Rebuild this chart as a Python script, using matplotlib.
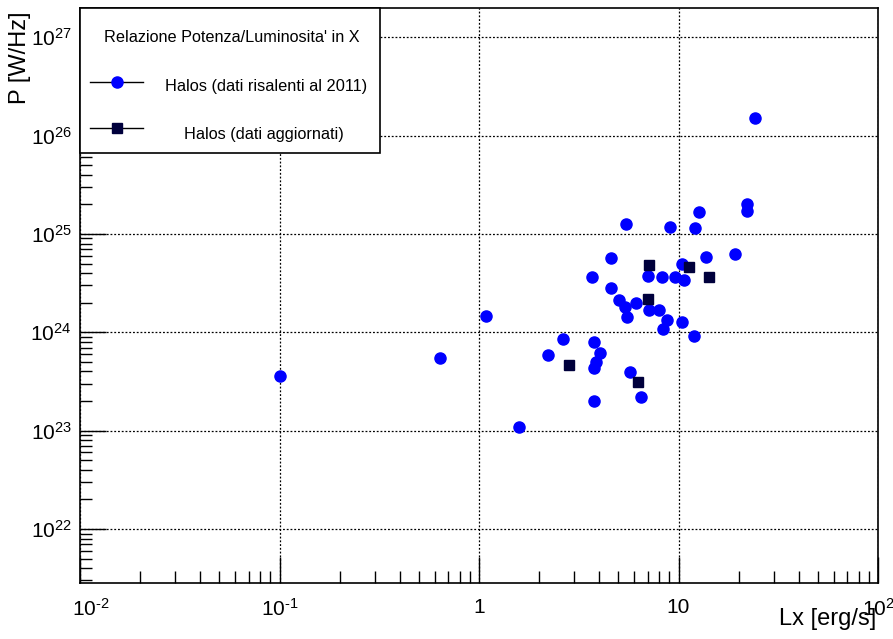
import numpy as np
import matplotlib
matplotlib.use('Agg')
import matplotlib.pyplot as plt
import matplotlib.transforms as mtransforms
from matplotlib.ticker import LogLocator, FixedLocator, FixedFormatter, NullFormatter
from matplotlib.patches import Rectangle
from matplotlib.lines import Line2D

plt.rcParams['font.family'] = ['Liberation Sans', 'DejaVu Sans']
plt.rcParams['mathtext.fontset'] = 'custom'
plt.rcParams['mathtext.rm'] = 'Liberation Sans'
plt.rcParams['mathtext.it'] = 'Liberation Sans'
plt.rcParams['mathtext.default'] = 'regular'

# Halos, data up to 2011
lx_2011 = [5.45, 9.03, 12.1, 12.7, 22.0, 22.0, 4.61, 13.7, 19.3, 10.4,
           3.69, 7.07, 8.27, 9.58, 10.7, 4.57, 5.03, 5.38, 6.12, 5.55,
           7.15, 7.94, 8.80, 8.39, 10.4, 12.0, 1.08, 2.65, 2.21, 3.76,
           4.02, 3.88, 3.79, 5.73, 6.49, 3.79, 1.58, 24.2, 0.10, 0.634]
p_2011 = [1.26e25, 1.17e25, 1.15e25, 1.66e25, 2.01e25, 1.72e25, 5.66e24, 5.79e24, 6.27e24, 4.97e24,
          3.63e24, 3.78e24, 3.63e24, 3.69e24, 3.42e24, 2.84e24, 2.14e24, 1.80e24, 2.00e24, 1.43e24,
          1.67e24, 1.67e24, 1.35e24, 1.09e24, 1.27e24, 9.1e23, 1.46e24, 8.6e23, 5.85e23, 7.98e23,
          6.22e23, 5.0e23, 4.29e23, 3.96e23, 2.18e23, 2.0e23, 1.10e23, 1.51e26, 3.58e23, 5.46e23]

# Halos, updated data
lx_new = [7.15, 11.3, 14.3, 7.02, 2.81, 6.29]
p_new = [4.89e24, 4.67e24, 3.63e24, 2.16e24, 4.6e23, 3.09e23]

x_ticks = [1e-2, 1e-1, 1, 10, 1e2]
x_ticklabels = [r'$10^{\text{-}2}$', r'$10^{\text{-}1}$', '1', '10', '$10^{2}$']

W, H = 893, 639
fig = plt.figure(figsize=(W / 100, H / 100), dpi=100)
ax = fig.add_axes([80 / W, 1 - 583 / H, (878 - 80) / W, (583 - 8) / H])

ax.set_xscale('log')
ax.set_yscale('log')
ax.set_xlim(1e-2, 1e2)
ax.set_ylim(10 ** 21.451, 10 ** 27.298)

blue = '#0000ff'
navy = '#00003c'
ax.plot(lx_2011, p_2011, 'o', color=blue, ms=8, mec=blue, zorder=3)
ax.plot(lx_new, p_new, 's', color=navy, ms=7.5, mec=navy, zorder=3)

ax.xaxis.set_major_locator(FixedLocator(x_ticks))
ax.xaxis.set_major_formatter(FixedFormatter(x_ticklabels))
ax.xaxis.set_minor_locator(LogLocator(base=10, subs=np.arange(2, 10)))
ax.xaxis.set_minor_formatter(NullFormatter())
ax.yaxis.set_major_locator(LogLocator(base=10, numticks=20))
ax.yaxis.set_minor_locator(LogLocator(base=10, subs=np.arange(2, 10), numticks=20))
ax.yaxis.set_minor_formatter(NullFormatter())

ax.tick_params(which='major', direction='in', length=19, width=1, labelsize=15,
               top=False, right=False)
ax.tick_params(which='minor', direction='in', length=8.5, width=1, top=False, right=False)
ax.tick_params(axis='x', which='major', pad=11)
ax.tick_params(axis='y', which='major', pad=6)

ax.grid(True, which='major', color='black', linestyle=(0, (1.5, 1.5)), linewidth=0.9)
for s in ax.spines.values():
    s.set_linewidth(1.2)

# first x label sits a bit to the right of its tick, like ROOT does
fig.canvas.draw()
first = ax.xaxis.get_major_ticks()[0].label1
first.set_transform(first.get_transform() + mtransforms.ScaledTranslation(11 / 100, 0, fig.dpi_scale_trans))

fig.text(20 / W, 1 - 12 / H, 'P [W/Hz]', rotation=90, ha='center', va='top', fontsize=17)
fig.text(876 / W, 1 - 625 / H, 'Lx [erg/s]', ha='right', va='baseline', fontsize=17)

# legend box, ROOT style
fig.patches.append(Rectangle((80 / W, 1 - 153 / H), 300 / W, 145 / H, transform=fig.transFigure,
                             facecolor='white', edgecolor='black', linewidth=1.2, zorder=5))
fig.text(232 / W, 1 - 37 / H, "Relazione Potenza/Luminosita' in X", ha='center', va='center',
         fontsize=11.7, zorder=6)
fig.lines.append(Line2D([90 / W, 143 / W], [1 - 82 / H] * 2, transform=fig.transFigure,
                        color='black', lw=1, marker=None, zorder=6))
fig.lines.append(Line2D([117 / W], [1 - 82 / H], transform=fig.transFigure, marker='o',
                        color=blue, ms=8, zorder=7))
fig.text(266 / W, 1 - 87 / H, 'Halos (dati risalenti al 2011)', ha='center', va='center',
         fontsize=11.8, zorder=6)
fig.lines.append(Line2D([90 / W, 143 / W], [1 - 128 / H] * 2, transform=fig.transFigure,
                        color='black', lw=1, zorder=6))
fig.lines.append(Line2D([117 / W], [1 - 128 / H], transform=fig.transFigure, marker='s',
                        color=navy, ms=7.5, zorder=7))
fig.text(264 / W, 1 - 134 / H, 'Halos (dati aggiornati)', ha='center', va='center',
         fontsize=11.7, zorder=6)

fig.savefig('out.png', dpi=100)
